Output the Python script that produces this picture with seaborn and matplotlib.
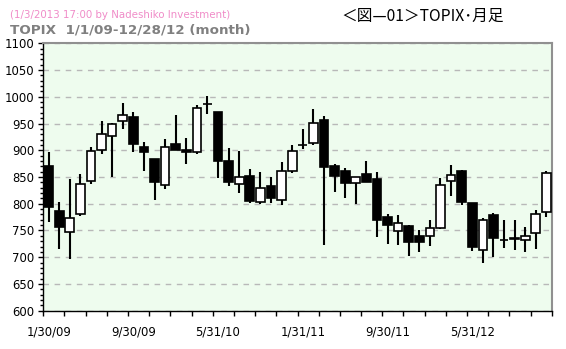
import matplotlib
matplotlib.use("Agg")
import matplotlib.pyplot as plt
import seaborn as sns
import numpy as np
import pandas as pd

# ---- data (TOPIX monthly, Jan 2009 - Dec 2012) ----
months = list(range(48))
opens = [870.6, 786.4, 746.5, 781.4, 841.9, 899.9, 926.1, 954.7, 961.6, 905.5, 883.7, 834.4,
         911.1, 900.5, 896.1, 986.0, 971.6, 880.0, 836.3, 851.8, 803.9, 833.2, 807.6, 861.9,
         909.5, 914.2, 956.0, 870.6, 861.2, 839.4, 855.0, 846.3, 775.2, 749.6, 758.4, 739.7,
         739.0, 755.2, 841.9, 860.6, 800.8, 712.9, 778.3, 732.0, 733.4, 732.7, 744.7, 785.0]
highs = [896.8, 803.3, 846.9, 855.6, 906.1, 954.7, 950.4, 988.4, 971.6, 914.8, 884.0, 921.1,
         966.0, 922.9, 984.7, 1001.5, 972.0, 904.3, 898.8, 865.0, 859.4, 850.0, 878.0, 909.2,
         939.2, 977.2, 963.5, 874.4, 867.4, 850.5, 880.0, 859.4, 780.8, 779.0, 760.3, 751.0,
         769.6, 848.8, 871.8, 862.4, 801.0, 772.7, 782.0, 769.0, 769.0, 755.8, 787.7, 860.6]
lows = [766.5, 715.4, 697.3, 777.7, 836.3, 893.7, 850.6, 939.2, 897.4, 861.9, 807.6, 828.2,
        900.0, 875.0, 892.4, 968.5, 848.8, 833.8, 820.7, 801.4, 800.1, 802.0, 798.3, 858.0,
        903.0, 910.5, 723.5, 821.9, 811.4, 800.1, 841.0, 738.4, 725.3, 723.5, 702.9, 710.4,
        721.6, 753.3, 815.2, 798.3, 711.0, 689.8, 701.0, 717.8, 714.0, 709.0, 716.0, 775.8]
closes = [794.5, 757.1, 772.7, 836.3, 898.6, 929.8, 949.8, 965.3, 911.1, 896.1, 841.3, 906.7,
          901.1, 896.0, 978.4, 986.5, 880.6, 841.3, 849.4, 805.7, 828.8, 811.4, 860.6, 898.0,
          909.9, 950.4, 869.3, 852.5, 839.4, 850.0, 841.3, 770.2, 760.9, 764.0, 729.1, 729.1,
          754.0, 834.4, 853.1, 803.3, 719.8, 769.0, 736.5, 731.6, 736.5, 740.2, 780.2, 858.0]
tick_label_pos = [0, 8, 16, 24, 32, 40]
tick_labels = ["1/30/09", "9/30/09", "5/31/10", "1/31/11", "9/30/11", "5/31/12"]
y_ticks = list(range(600, 1101, 50))

sns.set_style("ticks")
plt.rcParams['font.family'] = ['DejaVu Sans']

df = pd.DataFrame(dict(m=months, o=opens, h=highs, l=lows, c=closes))
df["body"] = df["c"] - df["o"]
df["up"] = df["c"] >= df["o"]

fig = plt.figure(figsize=(5.66, 3.49), dpi=100)
ax = fig.add_axes([43.3 / 566, 1 - 310.7 / 349, 508.4 / 566, 267.4 / 349])
ax.set_facecolor("#eefcee")
ax.set_axisbelow(True)
ax.yaxis.grid(True, color="#b8b8b8", linestyle=(0, (4, 4)), linewidth=1)
ax.xaxis.grid(False)

ax.vlines(df["m"], df["l"], df["h"], color="black", linewidth=1.5, zorder=2)
for up, color in [(True, "white"), (False, "black")]:
    sub = df[df["up"] == up].sort_values("m")
    sns.barplot(data=sub, x="m", y="body", bottom=sub["o"].to_numpy(), native_scale=True,
                width=0.82, color=color, saturation=1, edgecolor="black", linewidth=1.2,
                errorbar=None, ax=ax, zorder=3)

ax.set_xlim(-0.5, 47.5)
ax.set_ylim(600, 1100)
ax.set_yticks(y_ticks)
ax.set_yticks(range(600, 1101, 10), minor=True)
ax.set_xticks(tick_label_pos)
ax.set_xticklabels(tick_labels)
ax.set_xticks(np.arange(-0.5, 48, 2), minor=True)
ax.set_xlabel("")
ax.set_ylabel("")
ax.tick_params(axis='x', which='major', bottom=True, length=0, pad=11, labelsize=8.4, labelcolor="black")
ax.tick_params(axis='x', which='minor', bottom=True, length=3.5, width=1, color='black', direction='out')
ax.tick_params(axis='y', which='major', left=True, length=3.5, width=1, pad=3, labelsize=8.4, color='black', labelcolor="black")
ax.tick_params(axis='y', which='minor', left=True, length=2.5, width=1, color='black')

for s in ["left", "bottom"]:
    ax.spines[s].set_color("black")
    ax.spines[s].set_linewidth(1)
for s in ["top", "right"]:
    ax.spines[s].set_visible(True)
    ax.spines[s].set_color("#909090")
    ax.spines[s].set_linewidth(1.5)

fig.text(10 / 566, 1 - 14.5 / 349, "(1/3/2013 17:00 by Nadeshiko Investment)", color="#f08cc8",
         fontsize=7.4, va="center", ha="left")
fig.text(10 / 566, 1 - 30 / 349, "TOPIX  1/1/09-12/28/12 (month)", color="#808080",
         fontsize=9.7, fontweight="bold", va="center", ha="left")
fig.text(341 / 566, 1 - 16 / 349, "＜図—01＞TOPIX･月足", family=["Noto Sans CJK JP", "DejaVu Sans"],
         fontsize=11.3, va="center", ha="left", color="black")

fig.savefig("out.png", dpi=100)
